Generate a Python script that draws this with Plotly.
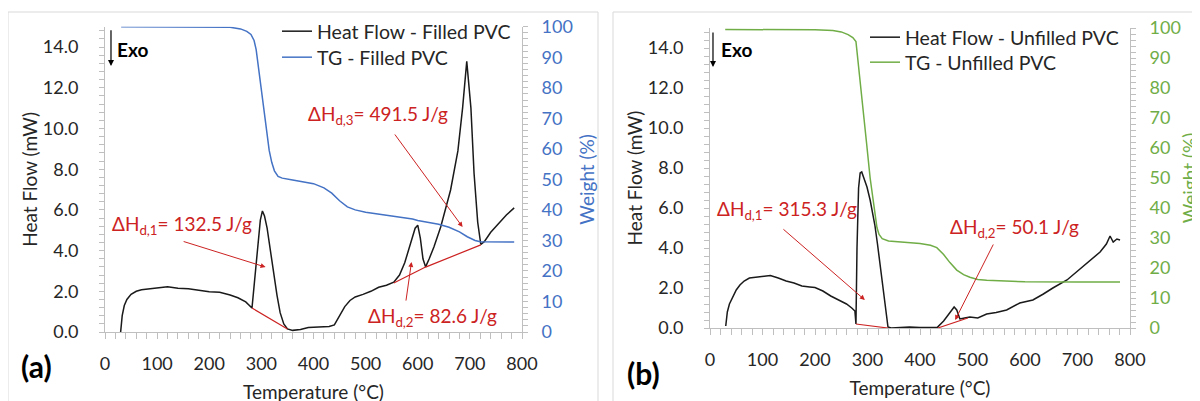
import plotly.graph_objects as go

W, H = 1200, 401
OX, OY = 8, 8  # page body margin offset of the rendered figure
FONT = "Lato"
TXT = "#262626"
RED = "#CC2222"
BLUE = "#4472C4"
GREEN = "#70AD47"
AXC = "#BFBFBF"

# ---------------- Panel (a): Filled PVC ----------------
temp_hf_a = [30, 33, 37, 42, 50, 60, 70, 85, 100, 120, 140, 160, 180, 200, 220, 240, 255, 270, 282,
             286, 290, 294, 298, 302, 306, 311, 317, 323, 330, 336, 343, 350, 360, 375, 390, 410, 430,
             440, 450, 460, 470, 480, 495, 510, 525, 540, 554, 565, 575, 585, 595, 600, 605, 610, 615,
             622, 631, 644, 663, 677, 686, 694, 702, 708, 715, 721, 728, 740, 755, 770, 785]
hf_a = [0.0, 0.8, 1.3, 1.6, 1.85, 2.0, 2.08, 2.12, 2.15, 2.22, 2.15, 2.12, 2.05, 1.98, 1.95, 1.82, 1.68, 1.48, 1.18,
        2.3, 3.5, 4.6, 5.5, 5.95, 5.7, 5.1, 4.0, 2.9, 1.8, 0.95, 0.4, 0.15, 0.08, 0.12, 0.22, 0.25, 0.27,
        0.35, 0.8, 1.25, 1.55, 1.72, 1.85, 2.0, 2.2, 2.3, 2.45, 2.8, 3.4, 4.3, 5.1, 5.25, 4.6, 3.6, 3.2,
        3.6, 4.18, 5.16, 6.98, 8.9, 11.0, 13.3, 11.0, 7.8, 5.4, 4.3, 4.45, 4.9, 5.35, 5.75, 6.1]
temp_tg_a = [31, 100, 200, 240, 260, 272, 280, 286, 290, 295, 300, 305, 310, 315, 320, 325, 332, 340, 360,
             380, 400, 420, 435, 450, 465, 480, 500, 530, 560, 590, 600, 620, 640, 660, 680, 695, 710, 720,
             740, 785]
tg_a = [100, 100, 100, 99.8, 99.3, 98.5, 97.5, 95.5, 92.5, 86, 79, 72, 65, 59.5, 55.5, 52.8, 51, 50.4, 49.8,
        49.3, 48.6, 47.2, 45.5, 43, 41, 40, 39.2, 38.5, 37.8, 37, 36.5, 36, 35.3, 34.3, 32.8, 31.2, 30, 29.6,
        29.5, 29.5]
base_a1_t = [282, 350]
base_a1_hf = [1.18, 0.15]
base_a2_t = [554, 615, 721]
base_a2_hf = [2.41, 3.19, 4.28]

# ---------------- Panel (b): Unfilled PVC ----------------
temp_hf_b = [30, 33, 37, 42, 50, 57, 65, 75, 90, 105, 115, 130, 145, 160, 175, 190, 200, 215, 230, 245,
             260, 270, 276, 278, 280, 283, 286, 289, 294, 299, 305, 310, 314, 319, 324, 328, 333, 336, 339,
             345, 360, 380, 400, 420, 433, 445, 455, 465, 470, 476, 485, 495, 510, 527, 545, 565, 590, 615,
             635, 653, 680, 700, 718, 743, 755, 762, 768, 775, 781]
hf_b = [0.1, 0.8, 1.2, 1.5, 1.9, 2.15, 2.35, 2.5, 2.55, 2.6, 2.62, 2.5, 2.35, 2.25, 2.1, 2.05, 2.02, 1.85, 1.6, 1.4,
        1.2, 1.0, 0.85, 0.2, 4.0, 7.0, 7.75, 7.8, 7.4, 7.05, 6.4, 5.8, 5.15, 4.2, 3.15, 2.2, 1.05, 0.5, 0.05,
        0.0, 0.02, 0.05, 0.03, 0.02, 0.03, 0.35, 0.7, 1.05, 0.9, 0.45, 0.5, 0.55, 0.5, 0.7, 0.78, 0.9, 1.25, 1.4,
        1.7, 2.0, 2.4, 2.85, 3.25, 3.8, 4.2, 4.6, 4.3, 4.45, 4.4]
temp_tg_b = [29, 100, 200, 234, 250, 263, 272, 278, 284, 291, 298, 305, 310, 314, 318, 322, 328, 340, 360,
             380, 400, 420, 432, 445, 457, 470, 483, 495, 510, 527, 560, 600, 700, 781]
tg_b = [99.5, 99.5, 99.4, 99.2, 98.7, 97.8, 96.8, 95.5, 86, 74, 62, 50, 43, 37.5, 33.5, 31.2, 29.8, 29.0, 28.7,
        28.4, 28.2, 27.6, 26.8, 24.5, 21.8, 19.3, 17.8, 16.9, 16.2, 15.9, 15.6, 15.4, 15.3, 15.3]
base_b1_t = [278, 339]
base_b1_hf = [0.2, 0.0]
base_b2_t = [434, 491]
base_b2_hf = [0.0, 0.5]

x_ticks = [0, 100, 200, 300, 400, 500, 600, 700, 800]
hf_ticks = [0, 2, 4, 6, 8, 10, 12, 14]
w_ticks = [0, 10, 20, 30, 40, 50, 60, 70, 80, 90, 100]


def px(x):
    return (x - OX) / W


def py(y):
    return 1 - (y - OY) / H


fig = go.Figure()

line_hf = dict(color="#1a1a1a", width=1.5)
fig.add_trace(go.Scatter(x=temp_hf_a, y=hf_a, mode="lines", name="Heat Flow - Filled PVC",
                         line=line_hf, xaxis="x", yaxis="y", legend="legend"))
fig.add_trace(go.Scatter(x=temp_tg_a, y=tg_a, mode="lines", name="TG - Filled PVC",
                         line=dict(color=BLUE, width=1.5), xaxis="x", yaxis="y2", legend="legend3"))
for bt, bh in [(base_a1_t, base_a1_hf), (base_a2_t, base_a2_hf)]:
    fig.add_trace(go.Scatter(x=bt, y=bh, mode="lines", line=dict(color=RED, width=1.2),
                             showlegend=False, xaxis="x", yaxis="y", hoverinfo="skip"))

fig.add_trace(go.Scatter(x=temp_hf_b, y=hf_b, mode="lines", name="Heat Flow - Unfilled PVC",
                         line=line_hf, xaxis="x2", yaxis="y3", legend="legend2"))
fig.add_trace(go.Scatter(x=temp_tg_b, y=tg_b, mode="lines", name="TG - Unfilled PVC",
                         line=dict(color=GREEN, width=1.5), xaxis="x2", yaxis="y4", legend="legend4"))
for bt, bh in [(base_b1_t, base_b1_hf), (base_b2_t, base_b2_hf)]:
    fig.add_trace(go.Scatter(x=bt, y=bh, mode="lines", line=dict(color=RED, width=1.2),
                             showlegend=False, xaxis="x2", yaxis="y3", hoverinfo="skip"))

TS = 18
tickfont = dict(family=FONT, size=TS, color=TXT)
titlefont = dict(family=FONT, size=19, color=TXT)


def xaxis(domain, anchor):
    return dict(domain=domain, anchor=anchor, range=[0, 800], tickvals=x_ticks, automargin=False,
                showline=True, linecolor=AXC, linewidth=1, ticks="outside", ticklen=6, tickcolor=AXC,
                minor=dict(dtick=20, ticks="outside", ticklen=6, tickcolor=AXC),
                showgrid=False, zeroline=False, tickfont=tickfont, ticklabelstandoff=9,
                title=dict(text="Temperature (°C)", font=titlefont, standoff=13))


def yleft(domain, anchor):
    return dict(domain=domain, anchor=anchor, range=[0, 15], tickvals=hf_ticks, tickformat=".1f",
                automargin=False,
                showline=True, linecolor=AXC, linewidth=1, ticks="outside", ticklen=5, tickcolor=AXC,
                minor=dict(dtick=0.4, ticks="outside", ticklen=5, tickcolor=AXC),
                showgrid=False, zeroline=False, tickfont=tickfont, ticklabelstandoff=17,
                title=dict(text="Heat Flow (mW)", font=titlefont, standoff=0))


def yright(over, anchor, color, standoff):
    return dict(overlaying=over, anchor=anchor, side="right", range=[0, 100], tickvals=w_ticks,
                automargin=False,
                showline=True, linecolor=AXC, linewidth=1, ticks="outside", ticklen=5, tickcolor=AXC,
                minor=dict(dtick=2, ticks="outside", ticklen=5, tickcolor=AXC),
                showgrid=False, zeroline=False, tickfont=dict(family=FONT, size=TS, color=color),
                ticklabelstandoff=10,
                title=dict(text="Weight (%)", font=dict(family=FONT, size=19, color=color),
                           standoff=standoff))


def legend_at(x, y):
    return dict(x=px(x), y=py(y), xanchor="left", yanchor="top", bgcolor="rgba(0,0,0,0)",
                font=dict(family=FONT, size=19.5, color=TXT), itemwidth=30, tracegroupgap=0)


ya_dom = [py(332), py(332 - 15 * 20.35)]
yb_dom = [py(328), py(28)]

fig.update_layout(
    width=W, height=H, margin=dict(l=0, r=0, t=0, b=0, autoexpand=False),
    paper_bgcolor="white", plot_bgcolor="white",
    font=dict(family=FONT, size=TS, color=TXT),
    xaxis=xaxis([px(105), px(522)], "y"),
    yaxis=yleft(ya_dom, "x"),
    yaxis2=yright("y", "x", BLUE, 8),
    xaxis2=xaxis([px(710), px(1130)], "y3"),
    yaxis3=yleft(yb_dom, "x2"),
    yaxis4=yright("y3", "x2", GREEN, 3),
    legend=legend_at(277, 12),
    legend3=legend_at(277, 38),
    legend2=legend_at(865, 18),
    legend4=legend_at(865, 43),
    showlegend=True,
)

# Panel frames
fig.add_shape(type="rect", xref="paper", yref="paper", x0=px(8), x1=px(598), y0=-0.05, y1=py(12),
              line=dict(color="#D9D9D9", width=1), layer="below")
fig.add_shape(type="rect", xref="paper", yref="paper", x0=px(613), x1=1.05, y0=-0.05, y1=py(12),
              line=dict(color="#D9D9D9", width=1), layer="below")

ann = []


def label(x, y, text, xr, yr, color=RED, size=19, bold=False):
    ann.append(dict(x=x, y=y, xref=xr, yref=yr, text=("<b>%s</b>" % text) if bold else text,
                    showarrow=False, xanchor="left", yanchor="middle",
                    font=dict(family=FONT, size=size, color=color)))


def arrow(x, y, ax, ay, xr, yr, color=RED, width=1):
    ann.append(dict(x=x, y=y, ax=ax, ay=ay, xref=xr, yref=yr, axref=xr, ayref=yr, text="",
                    showarrow=True, arrowhead=2, arrowsize=1, arrowwidth=width, arrowcolor=color))


# Panel (a) annotations
label(9.6, 5.26, "ΔH<sub>d,1</sub>= 132.5 J/g", "x", "y")
arrow(308, 3.19, 148, 4.47, "x", "y")
label(385, 10.66, "ΔH<sub>d,3</sub>= 491.5 J/g", "x", "y")
arrow(686, 5.16, 554, 9.78, "x", "y")
label(500, 0.74, "ΔH<sub>d,2</sub>= 82.6 J/g", "x", "y")
arrow(588, 3.44, 577, 1.47, "x", "y")
arrow(11.5, 13.07, 11.5, 14.9, "x", "y", color="black", width=1.2)
label(19, 13.86, "Exo", "x", "y", color="black", size=19, bold=True)

# Panel (b) annotations
label(9.5, 5.9, "ΔH<sub>d,1</sub>= 315.3 J/g", "x2", "y3")
arrow(295, 1.4, 137, 5.0, "x2", "y3")
label(453, 5.0, "ΔH<sub>d,2</sub>= 50.1 J/g", "x2", "y3")
arrow(467, 0.4, 541, 4.25, "x2", "y3")
arrow(5.7, 13.05, 5.7, 14.85, "x2", "y3", color="black", width=1.2)
label(17, 13.95, "Exo", "x2", "y3", color="black", size=19, bold=True)

# Panel letters
ann.append(dict(x=px(36), y=py(366), xref="paper", yref="paper", text="<b>(a)</b>", showarrow=False,
                xanchor="center", yanchor="middle", font=dict(family=FONT, size=30, color="black")))
ann.append(dict(x=px(643), y=py(373), xref="paper", yref="paper", text="<b>(b)</b>", showarrow=False,
                xanchor="center", yanchor="middle", font=dict(family=FONT, size=30, color="black")))

fig.update_layout(annotations=ann)

fig.write_html("out.html")
